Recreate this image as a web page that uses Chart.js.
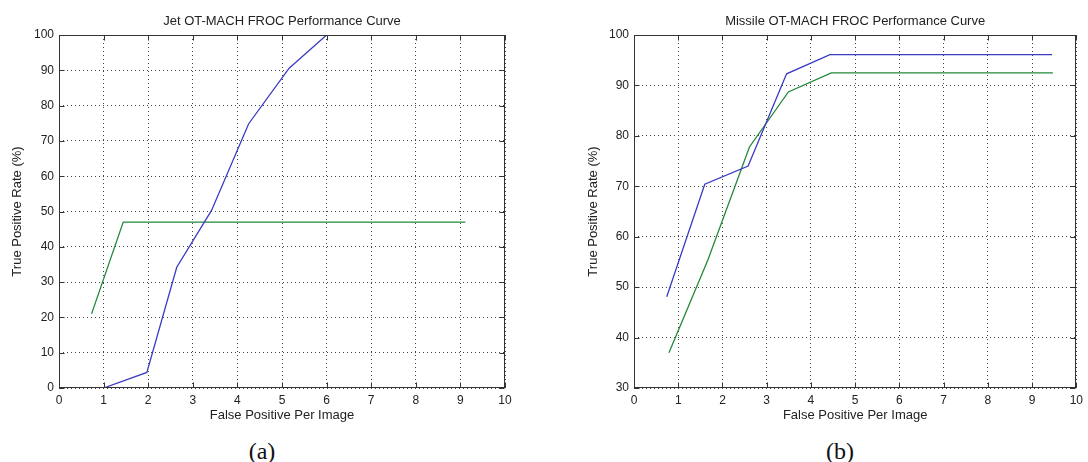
<!DOCTYPE html>
<html>
<head>
<meta charset="utf-8">
<script src="https://cdn.jsdelivr.net/npm/chart.js@4.4.1/dist/chart.umd.min.js"></script>
<style>
body { margin:0; background:#fff; width:1088px; height:462px; position:relative; overflow:hidden; }
.panel { position:absolute; top:0; width:544px; height:430px; }
.cap { position:absolute; top:439px; line-height:24px; font-family:"Liberation Serif","Times New Roman",serif; font-size:24px; color:#111; transform:translateX(-50%); }
</style>
</head>
<body>
<div class="panel" style="left:0"><canvas id="jetChart" width="544" height="430"></canvas></div>
<div class="panel" style="left:544px"><canvas id="missileChart" width="544" height="430"></canvas></div>
<div class="cap" style="left:262px">(a)</div>
<div class="cap" style="left:840px">(b)</div>
<script>
// (a) jet
const jetBlueX = [1.0, 1.97, 2.64, 3.42, 4.25, 5.16, 6.0];
const jetBlueY = [0, 4.4, 34.2, 50.3, 74.8, 90.6, 100];
const jetGreenX = [0.73, 1.44, 9.11];
const jetGreenY = [21.0, 47.0, 47.0];

// (b) missile
const missileBlueX = [0.74, 1.60, 2.58, 3.45, 4.43, 9.45];
const missileBlueY = [48.1, 70.4, 74.0, 92.3, 96.1, 96.1];
const missileGreenX = [0.79, 1.67, 2.61, 3.49, 4.46, 9.47];
const missileGreenY = [37.0, 55.4, 77.8, 88.7, 92.5, 92.5];

const xTicks = [0, 1, 2, 3, 4, 5, 6, 7, 8, 9, 10];
const jetYTicks = [0, 10, 20, 30, 40, 50, 60, 70, 80, 90, 100];
const missileYTicks = [30, 40, 50, 60, 70, 80, 90, 100];

const FONT = '"Liberation Sans", Arial, sans-serif';

function pts(xs, ys) {
    return xs.map((x, i) => ({ x: x, y: ys[i] }));
}

// matlab style box with inward ticks
const boxTicks = {
    id: 'boxTicks',
    afterDatasetsDraw(chart) {
        const { ctx, chartArea: a, scales: { x, y } } = chart;
        const L = Math.round(a.left) + 0.5, R = Math.round(a.right) - 0.5;
        const T = Math.round(a.top) + 0.5, B = Math.round(a.bottom) - 0.5;
        ctx.save();
        ctx.strokeStyle = '#333';
        ctx.lineWidth = 1;
        ctx.beginPath();
        x.ticks.forEach(t => {
            const px = Math.round(x.getPixelForValue(t.value)) + 0.5;
            ctx.moveTo(px, B); ctx.lineTo(px, B - 5);
            ctx.moveTo(px, T); ctx.lineTo(px, T + 5);
        });
        y.ticks.forEach(t => {
            const py = Math.round(y.getPixelForValue(t.value)) + 0.5;
            ctx.moveTo(L, py); ctx.lineTo(L + 5, py);
            ctx.moveTo(R, py); ctx.lineTo(R - 5, py);
        });
        ctx.stroke();
        ctx.strokeRect(L, T, R - L, B - T);
        ctx.restore();
    }
};

function makeChart(id, title, blue, green, yTicks, leftW, yTitlePad, padRight) {
    const ctx = document.getElementById(id).getContext('2d');
    return new Chart(ctx, {
        type: 'scatter',
        data: {
            datasets: [
                { data: blue, showLine: true, borderColor: '#3b3bc4', borderWidth: 1.3, pointRadius: 0, tension: 0 },
                { data: green, showLine: true, borderColor: '#23893a', borderWidth: 1.3, pointRadius: 0, tension: 0 }
            ]
        },
        options: {
            responsive: false,
            animation: false,
            layout: { padding: { left: 0, right: padRight, top: 0, bottom: 0 } },
            plugins: {
                legend: { display: false },
                tooltip: { enabled: false },
                title: {
                    display: true,
                    text: title,
                    fullSize: false,
                    color: '#222',
                    font: { family: FONT, size: 13, weight: 'normal' },
                    padding: { top: 13.2, bottom: 6.2 }
                }
            },
            scales: {
                x: {
                    type: 'linear',
                    min: xTicks[0],
                    max: xTicks[xTicks.length - 1],
                    afterBuildTicks: s => { s.ticks = xTicks.map(v => ({ value: v })); },
                    afterFit: s => { s.height = 42; },
                    ticks: { color: '#222', font: { family: FONT, size: 12 }, padding: 5, maxRotation: 0, autoSkip: false },
                    grid: { color: '#444', drawTicks: false },
                    border: { display: false, dash: [1, 3] },
                    title: {
                        display: true,
                        text: 'False Positive Per Image',
                        color: '#222',
                        font: { family: FONT, size: 13 },
                        padding: { top: 0, bottom: 7.2 }
                    }
                },
                y: {
                    type: 'linear',
                    min: yTicks[0],
                    max: yTicks[yTicks.length - 1],
                    afterBuildTicks: s => { s.ticks = yTicks.map(v => ({ value: v })); },
                    afterFit: s => { s.width = leftW; },
                    ticks: { color: '#222', font: { family: FONT, size: 12 }, padding: 5, autoSkip: false },
                    grid: { color: '#444', drawTicks: false },
                    border: { display: false, dash: [1, 3] },
                    title: {
                        display: true,
                        text: 'True Positive Rate (%)',
                        color: '#222',
                        font: { family: FONT, size: 13 },
                        padding: { top: yTitlePad, bottom: 0 }
                    }
                }
            }
        },
        plugins: [boxTicks]
    });
}

makeChart('jetChart', 'Jet OT-MACH FROC Performance Curve',
    pts(jetBlueX, jetBlueY), pts(jetGreenX, jetGreenY), jetYTicks, 59, 9.2, 39);
makeChart('missileChart', 'Missile OT-MACH FROC Performance Curve',
    pts(missileBlueX, missileBlueY), pts(missileGreenX, missileGreenY), missileYTicks, 90, 41.2, 7);
</script>
</body>
</html>
